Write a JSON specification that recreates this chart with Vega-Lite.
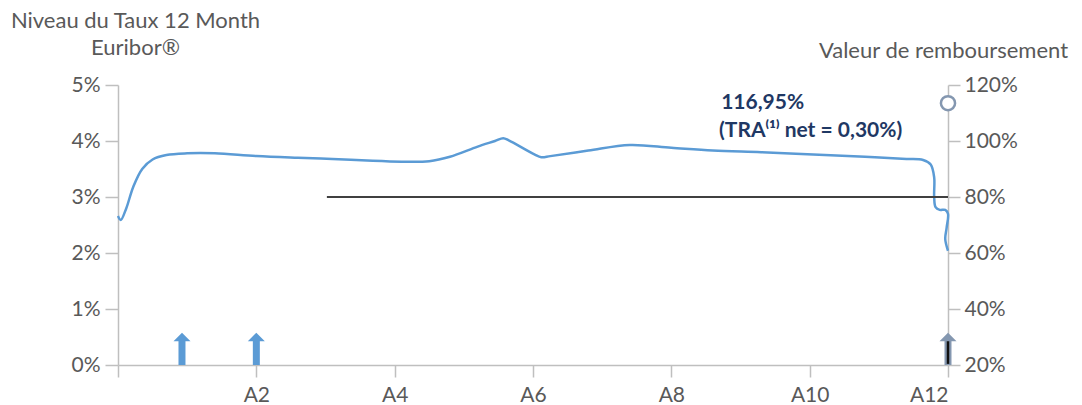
{
  "$schema": "https://vega.github.io/schema/vega-lite/v6.json",
  "width": 830,
  "height": 280,
  "autosize": {"type": "none"},
  "padding": {"left": 118, "top": 85, "right": 134, "bottom": 40},
  "config": {
    "view": {"stroke": null},
    "font": "Lato",
    "axis": {
      "domainColor": "#bfbfbf",
      "tickColor": "#bfbfbf",
      "domainWidth": 1.5,
      "tickWidth": 1.5,
      "labelColor": "#595959",
      "labelFontSize": 21,
      "labelFont": "Lato",
      "titleColor": "#595959",
      "titleFont": "Lato",
      "titleFontSize": 22,
      "titleFontWeight": "normal",
      "grid": false
    }
  },
  "datasets": {
    "euribor": [
      {"i": 1, "t": 0.0, "v": 2.66},
      {"i": 2, "t": 0.04, "v": 2.59},
      {"i": 3, "t": 0.12, "v": 2.8},
      {"i": 4, "t": 0.22, "v": 3.18},
      {"i": 5, "t": 0.35, "v": 3.5},
      {"i": 6, "t": 0.5, "v": 3.67},
      {"i": 7, "t": 0.7, "v": 3.75},
      {"i": 8, "t": 1.0, "v": 3.78},
      {"i": 9, "t": 1.4, "v": 3.78},
      {"i": 10, "t": 2.0, "v": 3.73},
      {"i": 11, "t": 2.6, "v": 3.7},
      {"i": 12, "t": 3.1, "v": 3.68},
      {"i": 13, "t": 3.6, "v": 3.65},
      {"i": 14, "t": 4.1, "v": 3.63},
      {"i": 15, "t": 4.5, "v": 3.64},
      {"i": 16, "t": 4.8, "v": 3.72},
      {"i": 17, "t": 5.2, "v": 3.9},
      {"i": 18, "t": 5.45, "v": 4.0},
      {"i": 19, "t": 5.57, "v": 4.05},
      {"i": 20, "t": 5.65, "v": 4.01},
      {"i": 21, "t": 6.02, "v": 3.76},
      {"i": 22, "t": 6.12, "v": 3.71},
      {"i": 23, "t": 6.25, "v": 3.73},
      {"i": 24, "t": 6.8, "v": 3.83},
      {"i": 25, "t": 7.4, "v": 3.93},
      {"i": 26, "t": 8.0, "v": 3.88},
      {"i": 27, "t": 8.6, "v": 3.83},
      {"i": 28, "t": 9.3, "v": 3.8},
      {"i": 29, "t": 10.05, "v": 3.76},
      {"i": 30, "t": 10.8, "v": 3.72},
      {"i": 31, "t": 11.4, "v": 3.68},
      {"i": 32, "t": 11.64, "v": 3.66},
      {"i": 33, "t": 11.75, "v": 3.58},
      {"i": 34, "t": 11.8, "v": 3.35},
      {"i": 35, "t": 11.8, "v": 3.0},
      {"i": 36, "t": 11.82, "v": 2.82},
      {"i": 37, "t": 11.88, "v": 2.77},
      {"i": 38, "t": 11.96, "v": 2.77},
      {"i": 39, "t": 12.0, "v": 2.7},
      {"i": 40, "t": 11.98, "v": 2.45},
      {"i": 41, "t": 11.96, "v": 2.25},
      {"i": 42, "t": 12.0, "v": 2.04}
    ],
    "arrows": [
      {"t": 0.925, "kind": "coupon"},
      {"t": 2.0, "kind": "coupon"},
      {"t": 12.0, "kind": "final"}
    ],
    "notes": [
      {"t": 8.72, "v": 4.68, "label": "116,95%"},
      {"t": 8.69, "v": 4.18, "label": "(TRA⁽¹⁾ net = 0,30%)"}
    ],
    "barrier": [{"t0": 3.02, "t1": 12, "v": 80}],
    "redemption": [{"t": 12, "v": 113.5}]
  },
  "layer": [
    {
      "data": {"name": "euribor"},
      "mark": {"type": "line", "interpolate": "catmull-rom", "color": "#5b9bd5", "strokeWidth": 2.5},
      "encoding": {
        "x": {
          "field": "t", "type": "quantitative",
          "scale": {"domain": [0, 12], "nice": false, "zero": false},
          "axis": {
            "orient": "bottom",
            "values": [0, 2, 4, 6, 8, 10, 12],
            "labelExpr": "datum.value == 0 ? '' : 'A' + datum.value",
            "tickSize": 12,
            "labelPadding": 7,
            "title": null
          }
        },
        "y": {
          "field": "v", "type": "quantitative",
          "scale": {"domain": [0, 5], "nice": false},
          "axis": {
            "orient": "left",
            "values": [0, 1, 2, 3, 4, 5],
            "labelExpr": "datum.value + '%'",
            "tickSize": 13,
            "labelPadding": 5,
            "title": ["Niveau du Taux 12 Month", "Euribor®"],
            "titleAngle": 0,
            "titleAlign": "center",
            "titleBaseline": "alphabetic",
            "titleX": 17,
            "titleY": -58,
            "titleLineHeight": 27
          }
        },
        "order": {"field": "i", "type": "quantitative"}
      }
    },
    {
      "data": {"name": "barrier"},
      "mark": {"type": "rule", "color": "#404040", "strokeWidth": 2},
      "encoding": {
        "x": {"field": "t0", "type": "quantitative"},
        "x2": {"field": "t1"},
        "y": {
          "field": "v", "type": "quantitative",
          "scale": {"domain": [20, 120], "nice": false, "zero": false},
          "axis": {
            "orient": "right",
            "values": [20, 40, 60, 80, 100, 120],
            "labelExpr": "datum.value + '%'",
            "tickSize": 12,
            "labelPadding": 4,
            "title": "Valeur de remboursement",
            "titleAngle": 0,
            "titleAlign": "center",
            "titleBaseline": "alphabetic",
            "titleX": -5,
            "titleY": -28
          }
        }
      }
    },
    {
      "data": {"name": "arrows"},
      "mark": {"type": "rule", "strokeWidth": 7, "strokeCap": "butt"},
      "encoding": {
        "x": {"field": "t", "type": "quantitative"},
        "y": {"datum": 0, "type": "quantitative", "scale": {"domain": [0, 5], "nice": false}, "axis": null},
        "y2": {"datum": 0.44},
        "color": {"field": "kind", "type": "nominal", "scale": {"domain": ["coupon", "final"], "range": ["#5b9bd5", "#8497b0"]}, "legend": null}
      }
    },
    {
      "data": {"name": "arrows"},
      "transform": [{"filter": "datum.kind == 'final'"}],
      "mark": {"type": "rule", "strokeWidth": 2.5, "strokeCap": "butt", "color": "#111111"},
      "encoding": {
        "x": {"field": "t", "type": "quantitative"},
        "y": {"datum": 0.02, "type": "quantitative", "scale": {"domain": [0, 5], "nice": false}, "axis": null},
        "y2": {"datum": 0.44}
      }
    },
    {
      "data": {"name": "arrows"},
      "mark": {"type": "point", "shape": "M-1,0.5L0,-0.5L1,0.5Z", "filled": true, "size": 289, "opacity": 1},
      "encoding": {
        "x": {"field": "t", "type": "quantitative"},
        "y": {"datum": 0.5, "type": "quantitative", "scale": {"domain": [0, 5], "nice": false}, "axis": null},
        "color": {"field": "kind", "type": "nominal", "legend": null}
      }
    },
    {
      "data": {"name": "notes"},
      "mark": {"type": "text", "align": "left", "baseline": "middle", "font": "Lato", "fontSize": 21, "fontWeight": "bold", "color": "#1f3864"},
      "encoding": {
        "x": {"field": "t", "type": "quantitative"},
        "y": {"field": "v", "type": "quantitative", "scale": {"domain": [0, 5], "nice": false}, "axis": null},
        "text": {"field": "label"}
      }
    },
    {
      "data": {"name": "redemption"},
      "mark": {"type": "point", "shape": "circle", "fill": "white", "filled": false, "stroke": "#8497b0", "strokeWidth": 2.5, "size": 200, "opacity": 1, "fillOpacity": 1},
      "encoding": {
        "x": {"field": "t", "type": "quantitative"},
        "y": {"field": "v", "type": "quantitative", "scale": {"domain": [20, 120], "nice": false, "zero": false}, "axis": null}
      }
    }
  ],
  "resolve": {"scale": {"y": "independent"}, "axis": {"y": "independent"}}
}
